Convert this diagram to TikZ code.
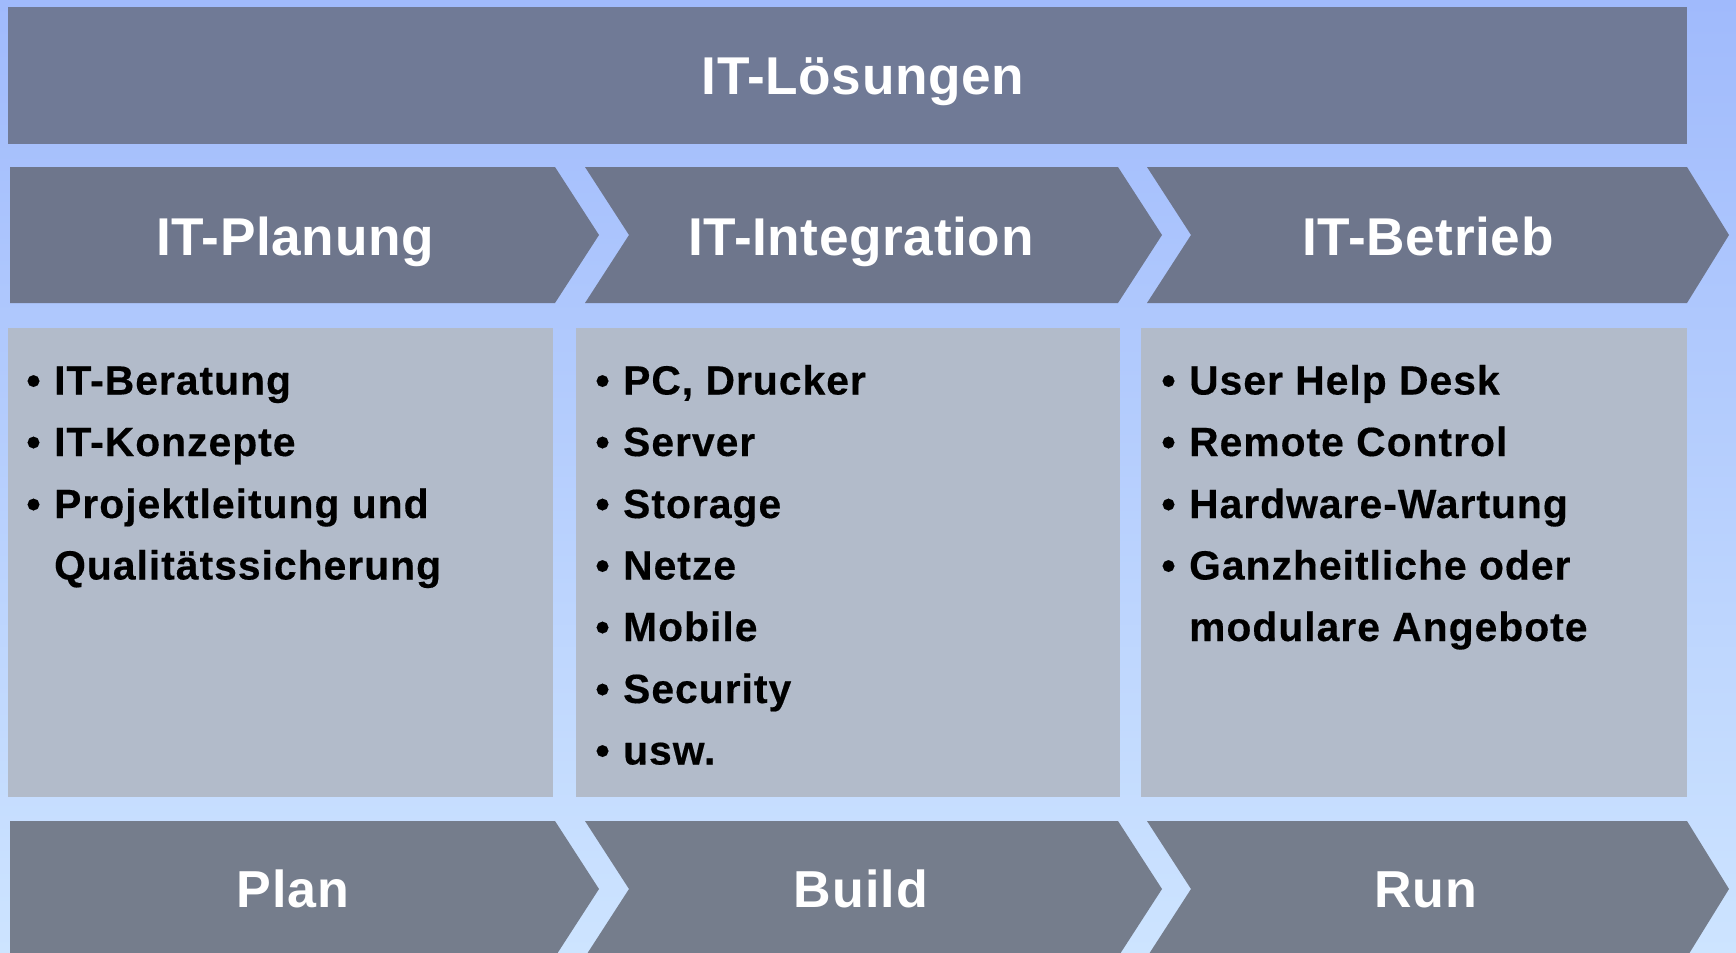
\documentclass[tikz,border=0pt]{standalone}
\usepackage{fontspec}
\setmainfont{Liberation Sans}
\definecolor{bgtop}{RGB}{160,186,252}
\definecolor{bgbot}{RGB}{205,228,255}
\definecolor{darktop}{RGB}{112,122,150}
\definecolor{darkmid}{RGB}{110,118,140}
\definecolor{darkbot}{RGB}{117,125,140}
\definecolor{lightbox}{RGB}{178,187,202}
\tikzset{
  hdr/.style={text=white,font=\fontsize{26.6}{30}\selectfont\bfseries\addfontfeature{LetterSpace=1.2},anchor=base,inner sep=0pt},
  ftr/.style={text=white,font=\fontsize{26}{30}\selectfont\bfseries\addfontfeature{LetterSpace=2.0},anchor=base,inner sep=0pt},
  item/.style={text=black,font=\fontsize{20.4}{24}\selectfont\bfseries\addfontfeature{LetterSpace=2.5,FakeBold=0.4},anchor=base west,inner sep=0pt},
}
\newcommand{\bul}{\textbullet\hspace{0.33em}}
\newcommand{\cont}{\hphantom{\textbullet}\hspace{0.33em}}
\begin{document}
\begin{tikzpicture}[x=0.5pt,y=-0.5pt]
\useasboundingbox (0,0) rectangle (1736,953);
\clip (0,0) rectangle (1736,953);
\shade[top color=bgtop,bottom color=bgbot] (0,0) rectangle (1736,953);
% top box
\fill[darktop] (8,7) rectangle (1687,144);
% header chevrons
\fill[darkmid] (10,167) -- (555,167) -- (599,235) -- (555,303) -- (10,303) -- cycle;
\fill[darkmid] (585,167) -- (1118,167) -- (1162,235) -- (1118,303) -- (585,303) -- (629,235) -- cycle;
\fill[darkmid] (1147,167) -- (1687,167) -- (1729,235) -- (1687,303) -- (1147,303) -- (1191,235) -- cycle;
% content boxes
\fill[lightbox] (8,328) rectangle (553,797);
\fill[lightbox] (576,328) rectangle (1120,797);
\fill[lightbox] (1141,328) rectangle (1687,797);
% bottom chevrons
\fill[darkbot] (10,821) -- (555,821) -- (599,889) -- (555,957) -- (10,957) -- cycle;
\fill[darkbot] (585,821) -- (1118,821) -- (1162,889) -- (1118,957) -- (585,957) -- (629,889) -- cycle;
\fill[darkbot] (1147,821) -- (1687,821) -- (1729,889) -- (1687,957) -- (1147,957) -- (1191,889) -- cycle;
% labels
\node[hdr] (top) at (863,94) {IT-Lösungen};
\node[hdr] (h1) at (295,255) {IT-Planung};
\node[hdr] (h2) at (861,255) {IT-Integration};
\node[hdr] (h3) at (1428,255) {IT-Betrieb};
\node[ftr] (f1) at (293,907) {Plan};
\node[ftr] (f2) at (861,907) {Build};
\node[ftr] (f3) at (1426,907) {Run};
% column 1
\node[item] (a1) at (26,394.5) {\bul IT-Beratung};
\node[item] (a2) at (26,456) {\bul IT-Konzepte};
\node[item] (a3) at (26,518) {\bul Projektleitung und};
\node[item] (a4) at (26,579.5) {\cont Qualitätssicherung};
% column 2
\node[item] (b1) at (595,394.5) {\bul PC, Drucker};
\node[item] (b2) at (595,456) {\bul Server};
\node[item] (b3) at (595,518) {\bul Storage};
\node[item] (b4) at (595,579.5) {\bul Netze};
\node[item] (b5) at (595,641) {\bul Mobile};
\node[item] (b6) at (595,703) {\bul Security};
\node[item] (b7) at (595,764.5) {\bul usw.};
% column 3
\node[item] (c1) at (1161,394.5) {\bul User Help Desk};
\node[item] (c2) at (1161,456) {\bul Remote Control};
\node[item] (c3) at (1161,518) {\bul Hardware-Wartung};
\node[item] (c4) at (1161,579.5) {\bul Ganzheitliche oder};
\node[item] (c5) at (1161,641) {\cont modulare Angebote};
\end{tikzpicture}
\end{document}
